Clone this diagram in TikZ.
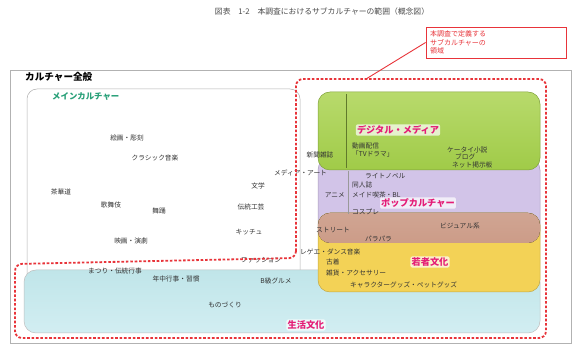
\documentclass[tikz,border=0pt]{standalone}
\usepackage{fontspec}
\setmainfont{Noto Sans CJK JP}
\definecolor{rd}{RGB}{232,52,58}
\definecolor{mag}{RGB}{228,28,118}
\definecolor{teal2}{RGB}{40,160,120}
\definecolor{grn}{RGB}{160,203,72}
\definecolor{grnT}{RGB}{184,218,108}
\definecolor{pur}{RGB}{210,196,232}
\definecolor{brn}{RGB}{204,156,136}
\definecolor{yel}{RGB}{243,210,86}
\definecolor{blu}{RGB}{192,229,233}
\definecolor{bluB}{RGB}{210,238,242}
\tikzset{
  item/.style={font=\fontsize{6.7}{7}\selectfont, inner sep=0pt, text=black!80},
  biglabel/.style={font=\fontsize{9.2}{10}\selectfont\bfseries, text=mag, fill=white, fill opacity=0.7, text opacity=1, rounded corners=2pt, inner sep=1.2pt},
  area/.style={rounded corners=12pt, draw=black!25, line width=0.5pt},
  reddash/.style={draw=rd, line width=1.8pt, dash pattern=on 2.6pt off 1.8pt, rounded corners=7pt},
}
\begin{document}
\begin{tikzpicture}[x=1pt,y=-1pt]
\useasboundingbox[fill=white] (0,0) rectangle (574,347);
% title
\node[font=\fontsize{7.8}{8}\selectfont, text=black!70] (title) at (322,12) {図表　1-2　本調査におけるサブカルチャーの範囲（概念図）};
% outer frame
\draw[black!30, line width=0.6pt] (10,70) rectangle (571,343);
\node[font=\fontsize{9.6}{10}\selectfont\bfseries, anchor=west, inner sep=0pt] (zen) at (25,77) {カルチャー全般};
% main culture
\draw[area, rounded corners=10pt, draw=black!30, fill=white] (27,89) rectangle (300,285);
\node[font=\fontsize{8.4}{9}\selectfont\bfseries, text=teal2, anchor=west, inner sep=0pt] (main) at (52,97) {メインカルチャー};
% life culture (blue)
\draw[area, top color=blu, bottom color=bluB] (24,270) rectangle (540,333);
% pop culture (purple)
\draw[area, fill=pur, draw=pur!80!black] (318,158) rectangle (540,243);
% youth culture (yellow)
\draw[area, fill=yel, draw=yel!80!black] (318,213) rectangle (540,292);
\begin{scope}
  \clip[rounded corners=12pt] (318,213) rectangle (540,292);
  \fill[rounded corners=12pt, top color=brn!75!white, bottom color=brn] (318,158) rectangle (540,243);
\end{scope}
% digital media (green)
\draw[area, top color=grnT, bottom color=grn, draw=grn!80!black] (318,92) rectangle (540,170);
\draw[grn!60!black, line width=0.4pt] (346,94) -- (346,168);
\draw[black!40, line width=0.4pt] (348,171) -- (348,214);
% main culture items
\node[item] (m1) at (127,138) {絵画・彫刻};
\node[item] (m2) at (155,158) {クラシック音楽};
\node[item] (m3) at (61,192) {茶華道};
\node[item] (m4) at (111,205) {歌舞伎};
\node[item] (m5) at (159,211) {舞踊};
\node[item] (m6) at (258,186) {文学};
\node[item] (m7) at (251,207) {伝統工芸};
\node[item] (m8) at (249,232) {キッチュ};
\node[item] (m9) at (131,241) {映画・演劇};
\node[item, anchor=west] (m10) at (274,173) {メディア・アート};
\node[item] (m11) at (261,260) {ファッション};
% life culture items
\node[item] (l1) at (115,271) {まつり・伝統行事};
\node[item] (l2) at (176,279) {年中行事・習慣};
\node[item] (l3) at (276,281) {B級グルメ};
\node[item] (l4) at (225,305) {ものづくり};
\node[biglabel] (lifeL) at (306,325) {生活文化};
% digital items
\node[item] (d1) at (320,155) {新聞雑誌};
\node[biglabel] (digL) at (398,130) {デジタル・メディア};
\node[item, anchor=west] (d2) at (352,146) {動画配信};
\node[item, anchor=west] (d3) at (352,154) {「TVドラマ」};
\node[item, anchor=west] (d4) at (447,150) {ケータイ小説};
\node[item, anchor=west] (d5) at (455,157) {ブログ};
\node[item, anchor=west] (d6) at (452,165) {ネット掲示板};
% pop items
\node[item, anchor=west] (p1) at (365,176) {ライトノベル};
\node[item, anchor=west] (p2) at (352,185) {同人誌};
\node[item, anchor=west] (p3) at (352,195) {メイド喫茶・BL};
\node[item, anchor=east] (p0) at (345,195) {アニメ};
\node[biglabel] (popL) at (418,203) {ポップカルチャー};
\node[item, anchor=west] (p4) at (352,212) {コスプレ};
\node[item, anchor=west] (p5) at (440,226) {ビジュアル系};
\node[item, anchor=west] (p6) at (316,230) {ストリート};
\node[item, anchor=west] (p7) at (365,239) {パラパラ};
% youth items
\node[item, anchor=west] (y1) at (300,252) {レゲエ・ダンス音楽};
\node[item, anchor=west] (y2) at (326,262) {古着};
\node[biglabel] (youL) at (430,262) {若者文化};
\node[item, anchor=west] (y3) at (326,273) {雑貨・アクセサリー};
\node[item, anchor=west] (y4) at (350,285) {キャラクターグッズ・ペットグッズ};
% dashed subculture region
\draw[reddash] (296,258) -- (296,79) -- (546,79) -- (546,338) -- (15,338) -- (15,264) -- cycle;
% callout
\node[draw=rd, line width=0.8pt, fill=white, text=rd, align=left, font=\fontsize{7}{8.2}\selectfont, inner sep=3pt, minimum width=140pt, minimum height=31pt, text width=132pt] (call) at (496,42.5) {本調査で定義する\\サブカルチャーの\\領域};
\coordinate (dtop) at (366,79);
\draw[rd, line width=0.9pt] (call.west) -- (dtop);
\end{tikzpicture}
\end{document}
